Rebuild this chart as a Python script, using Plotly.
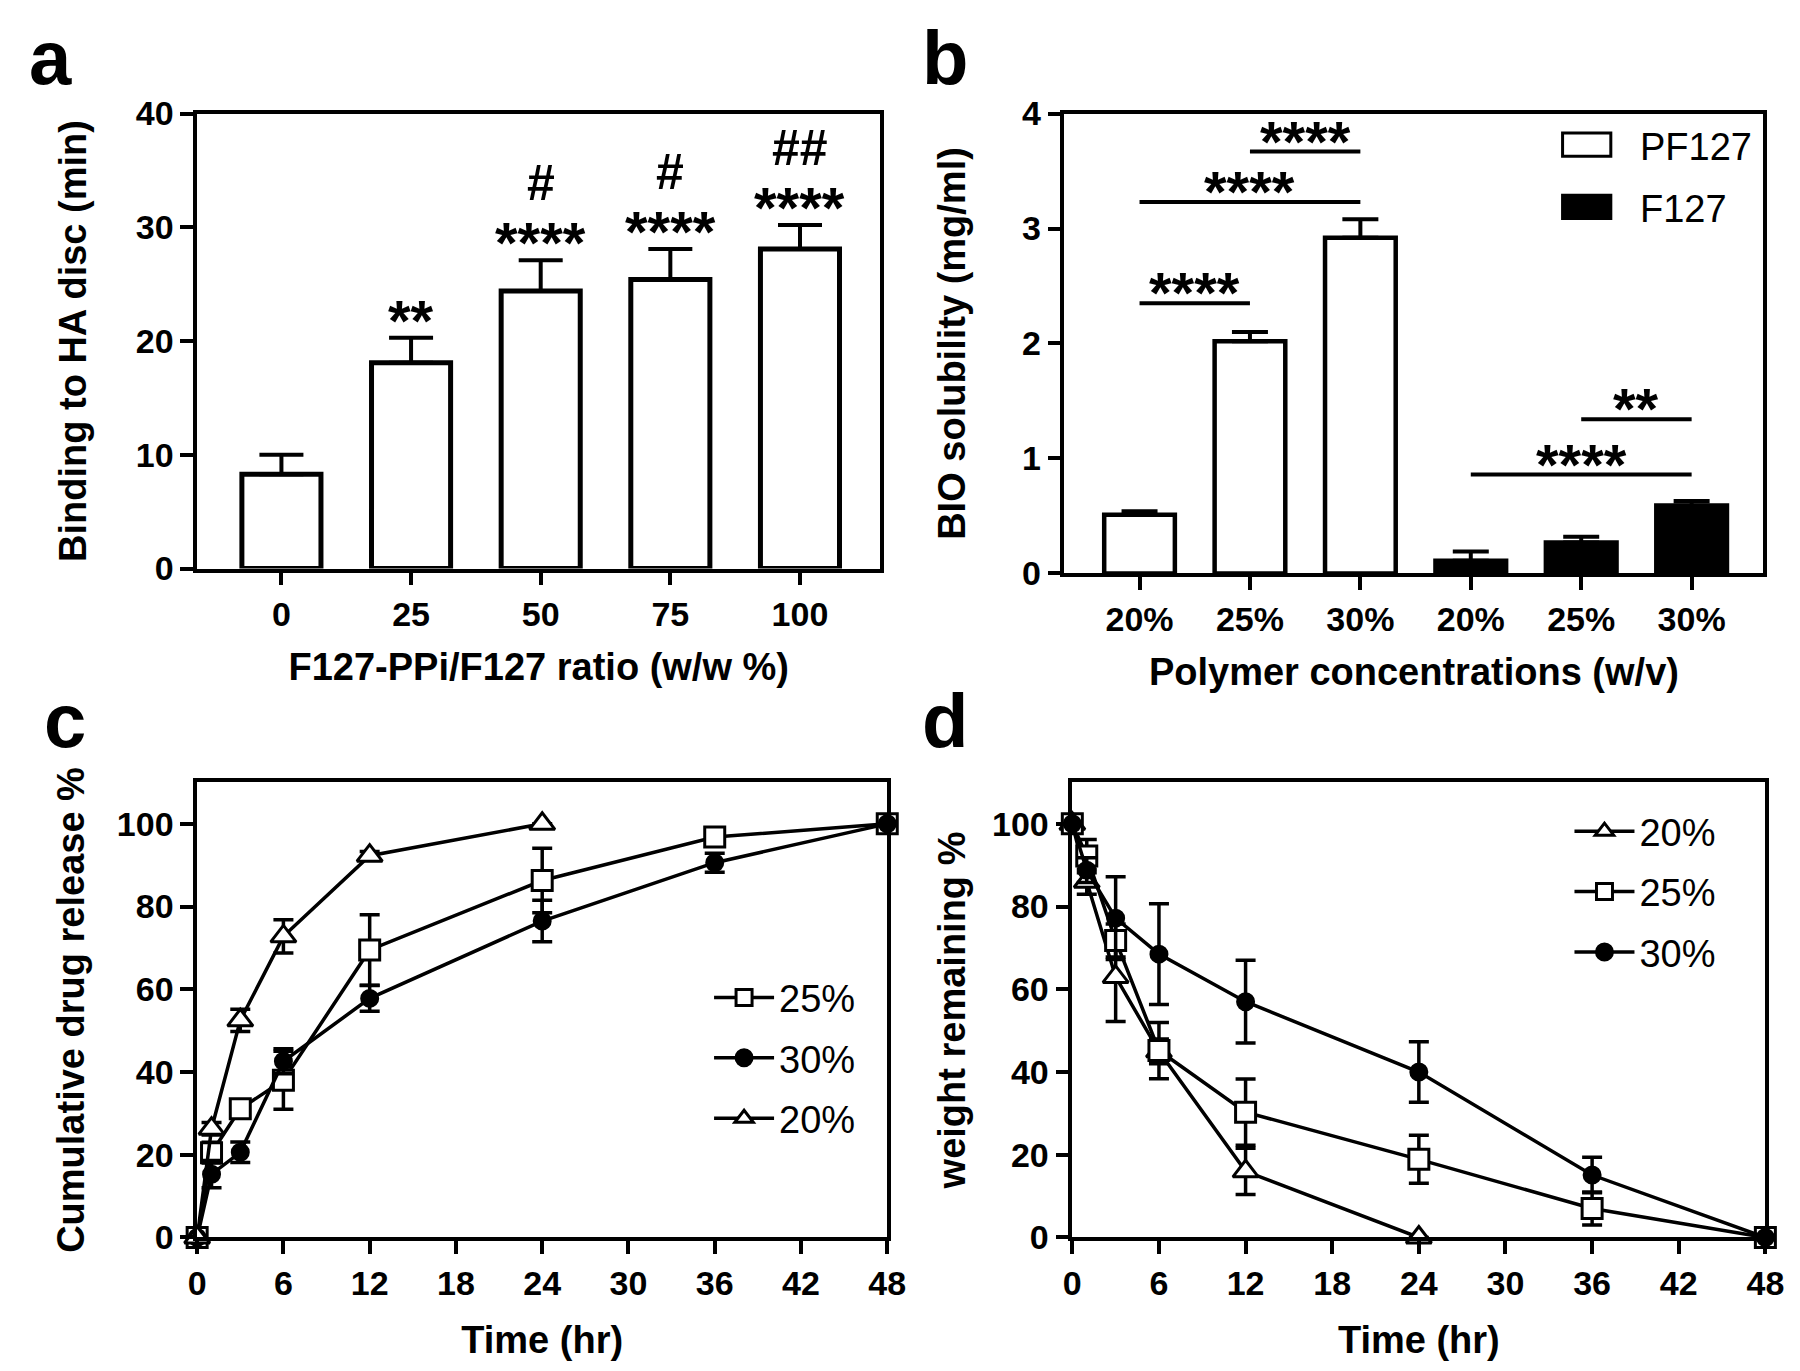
import plotly.graph_objects as go

# ---------------- Panel a data ----------------
ratio_labels = ["0", "25", "50", "75", "100"]
binding_min = [8.3, 18.1, 24.4, 25.4, 28.1]
binding_err = [1.7, 2.2, 2.7, 2.7, 2.1]
sig_star_a = ["", "**", "****", "****", "****"]
sig_hash_a = ["", "", "#", "#", "##"]

# ---------------- Panel b data ----------------
conc_labels = ["20%", "25%", "30%"]
pf127_sol = [0.51, 2.02, 2.92]
pf127_err = [0.03, 0.08, 0.16]
f127_sol = [0.11, 0.27, 0.59]
f127_err = [0.08, 0.05, 0.04]
b_pairs = [(0, 1), (0, 2), (1, 2), (3, 5), (4, 5)]
b_pair_labels = ["****", "****", "****", "****", "**"]
b_pair_levels = [2.35, 3.23, 3.67, 0.86, 1.34]

# ---------------- Panel c data ----------------
time_hr = [0, 1, 3, 6, 12, 24, 36, 48]
time_hr_20 = [0, 1, 3, 6, 12, 24]
release_25 = [0, 20.5, 31.1, 38.0, 69.5, 86.3, 96.8, 100]
release_25_err = [0, 2.5, 1.5, 7.0, 8.5, 7.8, 1.5, 0]
release_30 = [0, 15.3, 20.6, 42.6, 57.8, 76.5, 90.6, 100]
release_30_err = [0, 3.3, 2.5, 3.0, 3.1, 5.0, 2.3, 0]
release_20 = [0, 26.3, 52.5, 72.8, 92.3, 100]
release_20_err = [0, 1.5, 2.7, 4.0, 1.0, 0]

# ---------------- Panel d data ----------------
weight_20 = [100, 86, 63, 45, 16, 0]
weight_20_err = [0, 3.0, 10.8, 3.0, 5.6, 0]
weight_25 = [100, 92.2, 71.8, 45.2, 30.3, 18.9, 7.0, 0]
weight_25_err = [0, 4.0, 4.0, 6.8, 8.0, 5.8, 4.0, 0]
weight_30 = [100, 88.8, 77.2, 68.5, 57.0, 40.0, 15.1, 0]
weight_30_err = [0, 3.0, 10.0, 12.2, 10.0, 7.3, 4.3, 0]

W, H = 1800, 1371
FONT = "Liberation Sans, Arial, sans-serif"


def px_x(p):
    return p / W


def px_y(p):
    return 1 - p / H


fig = go.Figure()

# ---- Panel a bars ----
xa = list(range(len(ratio_labels)))
fig.add_trace(go.Bar(
    x=xa, y=binding_min, width=0.61,
    marker=dict(color="white", line=dict(color="black", width=5)),
    error_y=dict(type="data", symmetric=False, array=binding_err,
                 arrayminus=[0] * len(binding_err),
                 color="black", thickness=4, width=22),
    xaxis="x", yaxis="y", showlegend=False))

# ---- Panel b bars ----
xb_pf = list(range(len(conc_labels)))
xb_f = [i + len(conc_labels) for i in range(len(conc_labels))]
fig.add_trace(go.Bar(
    x=xb_pf, y=pf127_sol, width=0.64, name="PF127",
    marker=dict(color="white", line=dict(color="black", width=4.5)),
    error_y=dict(type="data", symmetric=False, array=pf127_err,
                 arrayminus=[0] * 3, color="black", thickness=4, width=18),
    xaxis="x2", yaxis="y2", showlegend=False))
fig.add_trace(go.Bar(
    x=xb_f, y=f127_sol, width=0.64, name="F127",
    marker=dict(color="black", line=dict(color="black", width=4.5)),
    error_y=dict(type="data", symmetric=False, array=f127_err,
                 arrayminus=[0] * 3, color="black", thickness=4, width=18),
    xaxis="x2", yaxis="y2", showlegend=False))


def line_trace(x, y, err, name, symbol, fill, size, xa_, ya_, legend, rank):
    return go.Scatter(
        x=x, y=y, name=name, mode="lines+markers",
        line=dict(color="black", width=3.5),
        marker=dict(symbol=symbol, size=size, color=fill,
                    line=dict(color="black", width=3)),
        error_y=dict(type="data", array=err, color="black", thickness=3.5, width=10),
        cliponaxis=False, xaxis=xa_, yaxis=ya_, legend=legend,
        legendrank=rank, legendgroup=legend + name)


# ---- Panel c lines ----
fig.add_trace(line_trace(time_hr, release_25, release_25_err, "25%", "square", "white", 20, "x3", "y3", "legend2", 1))
fig.add_trace(line_trace(time_hr, release_30, release_30_err, "30%", "circle", "black", 16, "x3", "y3", "legend2", 2))
fig.add_trace(line_trace(time_hr_20, release_20, release_20_err, "20%", "triangle-up", "white", 22, "x3", "y3", "legend2", 3))

# ---- Panel d lines ----
fig.add_trace(line_trace(time_hr_20, weight_20, weight_20_err, "20%", "triangle-up", "white", 22, "x4", "y4", "legend3", 1))
fig.add_trace(line_trace(time_hr, weight_25, weight_25_err, "25%", "square", "white", 20, "x4", "y4", "legend3", 2))
fig.add_trace(line_trace(time_hr, weight_30, weight_30_err, "30%", "circle", "black", 16, "x4", "y4", "legend3", 3))

tickfont = dict(family=FONT, size=34, color="black", weight="bold")
titlefont = dict(family=FONT, size=38, color="black", weight="bold")


def axis(**kw):
    base = dict(showline=True, linecolor="black", linewidth=3.5, mirror=True,
                ticks="outside", ticklen=13, tickwidth=3.5, tickcolor="black",
                showgrid=False, zeroline=False, tickfont=tickfont, fixedrange=True)
    base.update(kw)
    return base


legend_common = dict(xanchor="left", yanchor="top",
                     font=dict(family=FONT, size=38, color="black"),
                     traceorder="grouped", tracegroupgap=8, bgcolor="rgba(0,0,0,0)",
                     itemwidth=60)

layout = dict(
    width=W, height=H, margin=dict(l=0, r=0, t=0, b=0),
    paper_bgcolor="white", plot_bgcolor="white",
    barmode="overlay",
    font=dict(family=FONT, color="black"),
    xaxis=axis(domain=[px_x(183), px_x(877)], anchor="y", range=[-0.65, 4.62],
               tickvals=xa, ticktext=ratio_labels,
               title=dict(text="F127-PPi/F127 ratio (w/w %)", font=titlefont, standoff=22)),
    yaxis=axis(domain=[px_y(557), px_y(89)], anchor="x", range=[0, 40], dtick=10,
               title=dict(text="Binding to HA disc (min)", font=titlefont, standoff=38)),
    xaxis2=axis(domain=[px_x(1064), px_x(1774)], anchor="y2", range=[-0.68, 5.65],
                tickvals=xb_pf + xb_f, ticktext=conc_labels + conc_labels,
                title=dict(text="Polymer concentrations (w/v)", font=titlefont, standoff=22)),
    yaxis2=axis(domain=[px_y(562), px_y(89)], anchor="x2", range=[0, 4], dtick=1,
                title=dict(text="BIO solubility (mg/ml)", font=titlefont, standoff=46)),
    xaxis3=axis(domain=[px_x(183), px_x(884)], anchor="y3", range=[0, 48], dtick=6,
                title=dict(text="Time (hr)", font=titlefont, standoff=26)),
    yaxis3=axis(domain=[px_y(1245), px_y(777)], anchor="x3", range=[0, 110],
                tickvals=[0, 20, 40, 60, 80, 100],
                title=dict(text="Cumulative drug release %", font=titlefont, standoff=22)),
    xaxis4=axis(domain=[px_x(1072), px_x(1776)], anchor="y4", range=[0, 48], dtick=6,
                title=dict(text="Time (hr)", font=titlefont, standoff=26)),
    yaxis4=axis(domain=[px_y(1245), px_y(777)], anchor="x4", range=[0, 110],
                tickvals=[0, 20, 40, 60, 80, 100],
                title=dict(text="weight remaining %", font=titlefont, standoff=16)),
    legend2=dict(x=px_x(703), y=px_y(966), **legend_common),
    legend3=dict(x=px_x(1577), y=px_y(795), **legend_common),
)
fig.update_layout(**layout)

annotations = []
shapes = []

# Panel letters (baseline-based placement)
LET = 76
for letter, lx, base in [("a", 10, 60), ("b", 917, 60), ("c", 25, 742), ("d", 917, 742)]:
    annotations.append(dict(text=letter, x=px_x(lx), y=px_y(base + 0.212 * LET + 1),
                            xref="paper", yref="paper",
                            xanchor="left", yanchor="bottom", showarrow=False,
                            font=dict(family=FONT, size=LET, color="black", weight="bold")))

STAR = 58
HASH = 50
# Panel a significance marks
for i, (s, h) in enumerate(zip(sig_star_a, sig_hash_a)):
    top = binding_min[i] + binding_err[i]
    if s:
        annotations.append(dict(text=s, x=xa[i], y=top, xref="x", yref="y",
                                xanchor="center", yanchor="middle", showarrow=False,
                                yshift=29 - 0.2 * STAR,
                                font=dict(family=FONT, size=STAR, color="black", weight="bold")))
    if h:
        annotations.append(dict(text=h, x=xa[i], y=top, xref="x", yref="y",
                                xanchor="center", yanchor="middle", showarrow=False,
                                yshift=29 + 48,
                                font=dict(family=FONT, size=HASH, color="black", weight="bold")))

# Panel b comparison brackets
b_pos = xb_pf + xb_f
for (i, j), lab, lvl in zip(b_pairs, b_pair_labels, b_pair_levels):
    shapes.append(dict(type="line", xref="x2", yref="y2", x0=b_pos[i], x1=b_pos[j],
                       y0=lvl, y1=lvl, line=dict(color="black", width=4)))
    annotations.append(dict(text=lab, x=(b_pos[i] + b_pos[j]) / 2, y=lvl, xref="x2", yref="y2",
                            xanchor="center", yanchor="middle", showarrow=False,
                            yshift=22 - 0.2 * STAR,
                            font=dict(family=FONT, size=STAR, color="black", weight="bold")))

# Panel b legend (drawn)
for name, fill, ytop in [("PF127", "white", 109), ("F127", "black", 173)]:
    shapes.append(dict(type="rect", xref="paper", yref="paper",
                       x0=px_x(1570), x1=px_x(1619), y0=px_y(ytop + 24), y1=px_y(ytop),
                       fillcolor=fill, line=dict(color="black", width=3)))
    annotations.append(dict(text=name, x=px_x(1647), y=px_y(ytop + 12), xref="paper", yref="paper",
                            xanchor="left", yanchor="middle", showarrow=False, yshift=-2,
                            font=dict(family=FONT, size=38, color="black")))

fig.update_layout(annotations=annotations, shapes=shapes)
fig.write_html("out.html")
